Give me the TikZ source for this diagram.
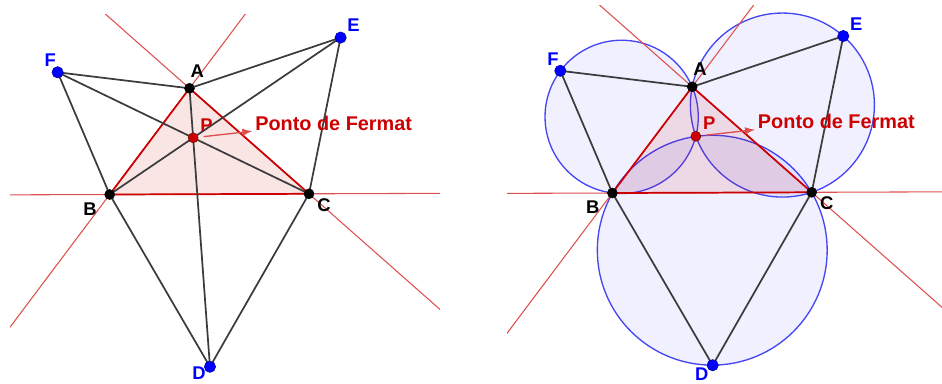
\documentclass[tikz,border=0pt]{standalone}
\usepackage{fontspec}
\setsansfont{Liberation Sans}
\usetikzlibrary{arrows.meta,calc,through}

\definecolor{ggred}{RGB}{204,0,0}
\definecolor{gglight}{RGB}{222,80,80}
\definecolor{ggblue}{RGB}{0,0,255}
\definecolor{ggcirc}{RGB}{70,70,245}
\definecolor{ggseg}{RGB}{60,60,60}

\begin{document}
\begin{tikzpicture}[
    x=0.75pt, y=-0.75pt,
    >=Latex,
    lab/.style={font=\sffamily\bfseries\fontsize{13.8}{13.8}\selectfont, inner sep=0pt},
    seg/.style={ggseg, line width=1.3pt},
    redline/.style={gglight, line width=0.8pt},
    side/.style={ggred, line width=1.3pt},
    dot/.style={circle, fill=black, draw=black, inner sep=0pt, minimum size=7.5pt},
    bdot/.style={dot, fill=ggblue, draw=ggblue!60!black, minimum size=8.5pt},
    pdot/.style={dot, fill=ggred, draw=ggred!60!black},
    fcirc/.style={draw=ggcirc, line width=1pt, fill=ggblue, fill opacity=0.06, inner sep=0pt},
    note/.style={text=ggred, font=\sffamily\bfseries\fontsize{14.9}{14.9}\selectfont, anchor=west, inner sep=0pt},
    notearrow/.style={->, gglight, line width=1pt, shorten <=4pt, shorten >=2pt}
]
\useasboundingbox (0,0) rectangle (942,383);

% Left: triangle, outer equilateral triangles and the three cevians
\begin{scope}
\coordinate (A) at (189.5,88.3);
\coordinate (B) at (109.7,194.5);
\coordinate (C) at (309,193.8);
\coordinate (D) at ($(B)!1!-60:(C)$);
\coordinate (E) at ($(A)!1!60:(C)$);
\coordinate (F) at ($(A)!1!-60:(B)$);
\coordinate (P) at (intersection of A--D and B--E);

\fill[ggred, fill opacity=0.1] (A) -- (B) -- (C) -- cycle;
\begin{scope}
\clip (10,14) rectangle (440,385);
\draw[redline] ($(B)!-3!(C)$) -- ($(B)!4!(C)$);
\draw[redline] ($(A)!-3!(B)$) -- ($(A)!4!(B)$);
\draw[redline] ($(A)!-3!(C)$) -- ($(A)!4!(C)$);
\end{scope}
\draw[side] (A) -- (B) -- (C) -- cycle;

\draw[seg] (F) -- (A) -- (E) -- (C) -- (D) -- (B) -- cycle;
\draw[seg] (F) -- (C);
\draw[seg] (E) -- (B);
\draw[seg] (D) -- (A);

\node[dot] (dA) at (A) {};
\node[dot] (dB) at (B) {};
\node[dot] (dC) at (C) {};
\node[bdot] (dD) at (D) {};
\node[bdot] (dE) at (E) {};
\node[bdot] (dF) at (F) {};
\node[pdot] (dP) at (P) {};

\node[lab] (lA) at ($(A)+(7.7,-17.3)$) {A};
\node[lab] (lB) at ($(B)+(-19.7,14.3)$) {B};
\node[lab] (lC) at ($(C)+(15,11)$) {C};
\node[lab, text=ggblue] (lD) at ($(D)+(-11,6.8)$) {D};
\node[lab, text=ggblue] (lE) at ($(E)+(13,-12)$) {E};
\node[lab, text=ggblue] (lF) at ($(F)+(-7.4,-12)$) {F};
\node[lab, text=ggred] (lP) at ($(P)+(13.4,-12.7)$) {P};

\node[note] (fermat) at (255,123.3) {Ponto de Fermat};
\draw[notearrow] (dP) -- (fermat.south west);
\end{scope}

% Right: same construction with the three circumcircles
\begin{scope}[shift={(502.7,-1.5)}, name prefix=r-]
\coordinate (A) at (189.5,88.3);
\coordinate (B) at (109.7,194.5);
\coordinate (C) at (309,193.8);
\coordinate (D) at ($(B)!1!-60:(C)$);
\coordinate (E) at ($(A)!1!60:(C)$);
\coordinate (F) at ($(A)!1!-60:(B)$);
\coordinate (P) at (intersection of A--D and B--E);
\coordinate (OD) at ($(B)!.5!(C)!0.57735!-90:(C)$);
\coordinate (OE) at ($(A)!.5!(C)!0.57735!90:(C)$);
\coordinate (OF) at ($(A)!.5!(B)!0.57735!-90:(B)$);

\node[fcirc, circle through=(B)] (cD) at (OD) {};
\node[fcirc, circle through=(A)] (cE) at (OE) {};
\node[fcirc, circle through=(A)] (cF) at (OF) {};

\fill[ggred, fill opacity=0.1] (A) -- (B) -- (C) -- cycle;
\begin{scope}
\clip (4.3,6.5) rectangle (439.3,385);
\draw[redline] ($(B)!-3!(C)$) -- ($(B)!4!(C)$);
\draw[redline] ($(A)!-3!(B)$) -- ($(A)!4!(B)$);
\draw[redline] ($(A)!-3!(C)$) -- ($(A)!4!(C)$);
\end{scope}
\draw[side] (A) -- (B) -- (C) -- cycle;

\draw[seg] (F) -- (A) -- (E) -- (C) -- (D) -- (B) -- cycle;

\node[dot] (dA) at (A) {};
\node[dot] (dB) at (B) {};
\node[dot] (dC) at (C) {};
\node[bdot] (dD) at (D) {};
\node[bdot] (dE) at (E) {};
\node[bdot] (dF) at (F) {};
\node[pdot] (dP) at (P) {};

\node[lab] (lA) at ($(A)+(7.7,-17.3)$) {A};
\node[lab] (lB) at ($(B)+(-19.7,14.3)$) {B};
\node[lab] (lC) at ($(C)+(15,11)$) {C};
\node[lab, text=ggblue] (lD) at ($(D)+(-11,8.5)$) {D};
\node[lab, text=ggblue] (lE) at ($(E)+(13,-12)$) {E};
\node[lab, text=ggblue] (lF) at ($(F)+(-7.4,-12)$) {F};
\node[lab, text=ggred] (lP) at ($(P)+(13.4,-12.7)$) {P};

\node[note] (fermat) at (255,123.3) {Ponto de Fermat};
\draw[notearrow] (dP) -- (fermat.south west);
\end{scope}
\end{tikzpicture}
\end{document}
